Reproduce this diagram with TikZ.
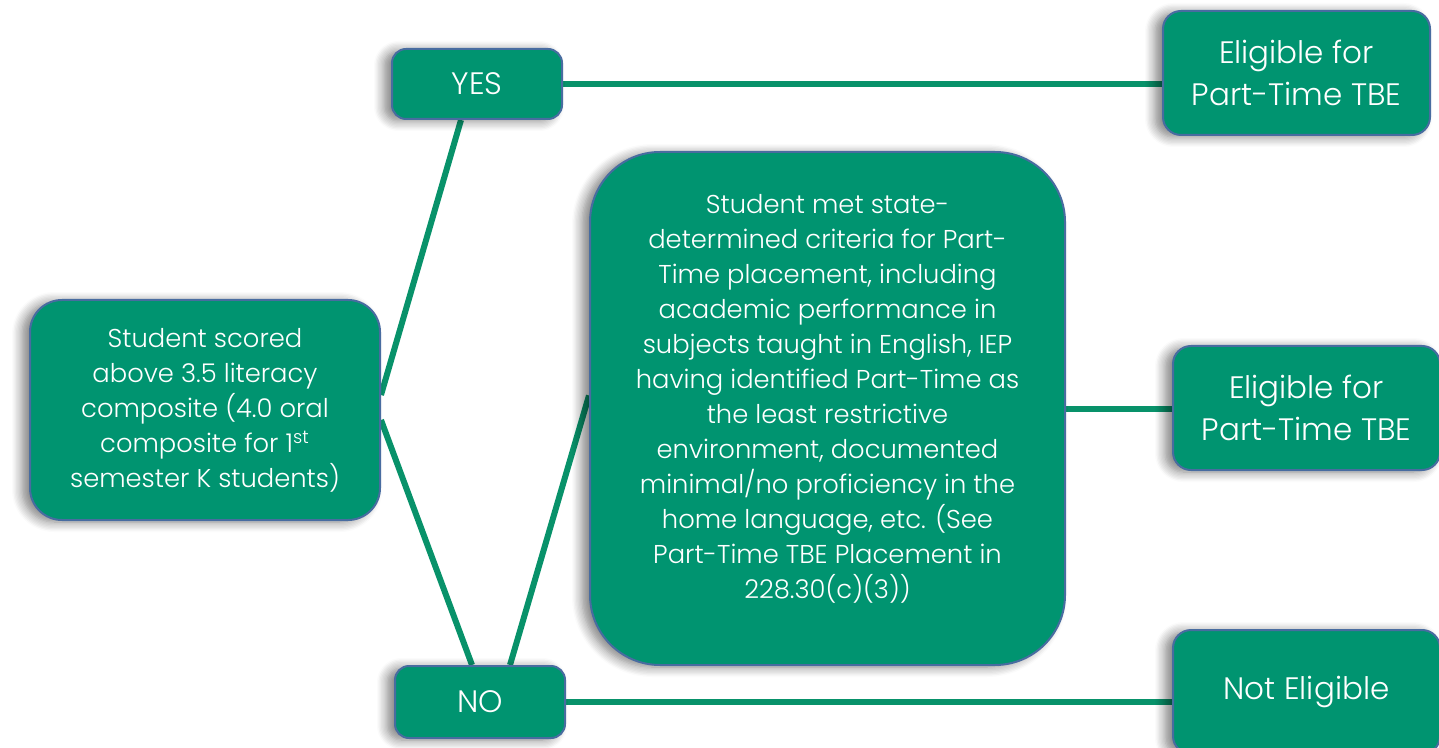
\documentclass[tikz,border=0pt]{standalone}
\usepackage{fontspec}
\setmainfont{Poppins}[UprightFont=* Light]
\usetikzlibrary{positioning,calc,shadows.blur,backgrounds}

\definecolor{boxgreen}{RGB}{0,148,112}
\definecolor{boxedge}{RGB}{72,108,160}
\definecolor{linkgreen}{RGB}{8,146,106}

\tikzset{
  box/.style={draw=boxedge,line width=1pt,fill=boxgreen,text=white,align=center,inner sep=2pt,
    blur shadow={shadow xshift=-4pt,shadow yshift=-1pt,shadow blur steps=8,shadow blur radius=5pt,shadow opacity=50}},
  answer/.style={box,minimum width=85pt,minimum height=35pt,rounded corners=7pt,font=\fontsize{15.5}{19}\selectfont},
  result/.style={box,minimum width=133.5pt,minimum height=62pt,rounded corners=9pt,font=\fontsize{15.5}{21}\selectfont},
  query/.style={box,font=\fontsize{12.9}{17.5}\selectfont},
  link/.style={draw=linkgreen,line width=3pt}
}

\begin{document}
\begin{tikzpicture}[x=0.5pt,y=-0.5pt]
    \useasboundingbox (0,0) rectangle (1439,748);
    % questions
    \node[query,minimum width=175pt,minimum height=110pt,rounded corners=16pt] (score) at (205,410)
      {Student scored\\above 3.5 literacy\\composite (4.0 oral\\composite for 1\textsuperscript{st}\\semester K students)};
    \node[query,minimum width=237.5pt,minimum height=256.5pt,rounded corners=35pt,text depth=12pt] (crit) at (827.5,408.5)
      {Student met state-\\determined criteria for Part-\\Time placement, including\\academic performance in\\subjects taught in English, IEP\\having identified Part-Time as\\the least restrictive\\environment, documented\\minimal/no proficiency in the\\home language, etc. (See\\Part-Time TBE Placement in\\228.30(c)(3))};
    % answers
    \node[answer] (yes) at (477,84) {YES};
    \node[answer,minimum height=36pt] (no) at (480,702) {NO};
    % results
    \node[result] (elig1) at (1296.5,73) {Eligible for\\Part-Time TBE};
    \node[result] (elig2) at (1306.5,408) {Eligible for\\Part-Time TBE};
    \node[result] (noelig) at (1306.5,692) {Not Eligible};
    \begin{pgfonlayer}{background}
    \path[link] ($(score.east)+(0,-15)$) -- ($(yes.south)+(-16,0)$);
    \path[link] ($(score.east)+(0,10)$) -- ($(no.north)+(-8,0)$);
    \path[link] ($(no.north)+(30,0)$) -- ($(crit.west)+(0,-13)$);
    \path[link] (yes.east) -- (yes.east -| elig1.west);
    \path[link] (crit.east) -- (crit.east -| elig2.west);
    \path[link] (no.east) -- (no.east -| noelig.west);
    \end{pgfonlayer}
\end{tikzpicture}
\end{document}
